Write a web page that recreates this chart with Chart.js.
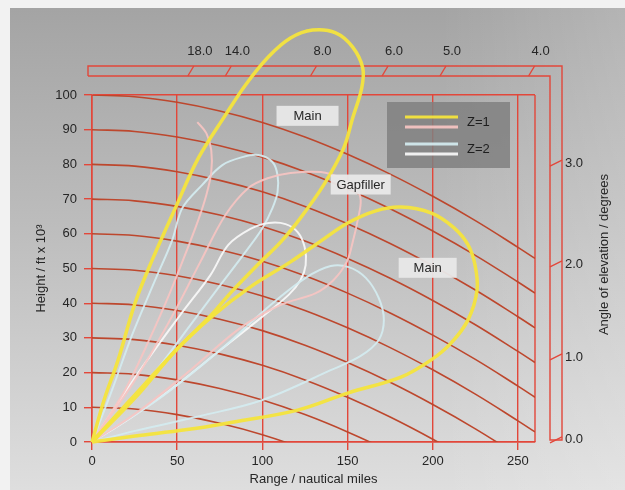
<!DOCTYPE html>
<html>
<head>
<meta charset="utf-8">
<script src="https://cdn.jsdelivr.net/npm/chart.js@4.4.1/dist/chart.umd.min.js"></script>
<style>
  html, body { margin: 0; padding: 0; background: #fff; }
</style>
</head>
<body>
<canvas id="coverage" width="625" height="490"></canvas>
<script>
var FONT = "'Liberation Sans', Arial, Helvetica, sans-serif";
var RED = '#e2473a';
var CURVE = '#bd472d';
var INK = '#262626';
var YELLOW = 'rgba(244,228,60,0.95)';
var PINK = 'rgba(246,196,194,0.92)';
var CYAN = 'rgba(212,236,240,0.92)';
var WHITE = 'rgba(248,248,248,0.92)';

// axes
var rangeTicks = [0, 50, 100, 150, 200, 250];
var heightTicks = [0, 10, 20, 30, 40, 50, 60, 70, 80, 90, 100];
var rangeMax = 260;

// constant height lines (ft x 10^3) and their fall below the flat line
var heightLevels = [10, 20, 30, 40, 50, 60, 70, 80, 90, 100];
var curveRange = [0, 25, 50, 75, 100, 125, 150, 175, 200, 225, 250, 260];
var curveDrop = [0, 0.5, 2.1, 4.6, 7.9, 12.1, 17.1, 22.8, 29.2, 36.2, 43.9, 47.1];

// right scale: angle of elevation, height where it meets the frame
var angleLabels = ['0.0', '1.0', '2.0', '3.0'];
var angleHeights = [0.6, 24.5, 51.3, 80.4];

// top scale
var topLabels = ['18.0', '14.0', '8.0', '6.0', '5.0', '4.0'];
var topRanges = [58, 80, 130, 172, 206, 258];

// Z=1 main lobes (yellow)
var mainUpperRange = [0, 7.1, 15.3, 25.3, 35.3, 48.9, 62.4, 78.3, 90.1, 103.6, 116.5, 129.5, 143.0, 153.0, 158.9, 158.3, 153.0, 147.7, 136.0, 122.4, 110.7, 97.7, 81.2, 70.0, 49.4, 22.4, 0];
var mainUpperHeight = [0, 12.1, 23.6, 40.1, 52.4, 67.4, 81.8, 94.2, 102.9, 111.0, 116.4, 118.7, 117.9, 113.8, 107.8, 102.0, 93.4, 84.7, 74.1, 64.6, 57.6, 51.3, 42.9, 36.6, 26.5, 12.1, 0];
var mainLowerRange = [0, 25.3, 49.4, 70.0, 93.0, 116.5, 134.2, 150.1, 166.6, 181.3, 198.9, 212.5, 220.7, 224.8, 226.0, 220.7, 210.7, 198.9, 181.3, 150.1, 120.7, 80.0, 54.7, 25.3, 0];
var mainLowerHeight = [0, 12.7, 26.5, 36.0, 44.7, 51.9, 57.9, 63.1, 66.6, 67.7, 66.0, 61.7, 56.8, 51.0, 43.8, 35.2, 28.5, 23.6, 18.7, 14.1, 9.2, 5.5, 3.5, 1.7, 0];

// Z=1 gapfiller lobes (pink)
var gapHookRange = [61.8, 67.1, 70.0, 70.0, 67.1, 62.4, 55.3, 45.9, 34.1, 19.4, 0];
var gapHookHeight = [92.2, 89.0, 84.1, 77.8, 71.2, 64.0, 54.8, 43.2, 30.0, 15.0, 0];
var gapLobeRange = [0, 25.3, 45.9, 63.6, 78.3, 91.8, 103.6, 116.5, 134.2, 146.0, 154.8, 157.7, 156.0, 153.0, 149.5, 141.8, 131.3, 110.7, 87.1, 57.7, 28.3, 0];
var gapLobeHeight = [0, 17.9, 35.2, 51.9, 65.4, 73.2, 76.1, 77.5, 77.8, 76.1, 73.2, 69.7, 64.0, 57.6, 51.9, 46.7, 42.9, 39.5, 32.9, 20.7, 9.2, 0];

// Z=2 lobes (cyan, white)
var z2UpperRange = [0, 11.8, 23.5, 37.1, 47.1, 53.0, 64.7, 76.5, 88.3, 97.7, 105.9, 108.9, 108.9, 105.9, 100.1, 90.1, 75.3, 57.7, 34.1, 0];
var z2UpperHeight = [0, 15.0, 30.8, 46.7, 58.2, 67.4, 74.1, 79.8, 82.1, 82.7, 80.7, 76.9, 72.0, 67.4, 61.7, 54.8, 45.2, 33.7, 18.4, 0];
var z2GapRange = [0, 28.3, 51.8, 69.5, 80.0, 93.0, 103.6, 113.6, 120.7, 124.8, 125.4, 122.4, 115.4, 98.9, 75.3, 45.9, 22.4, 0];
var z2GapHeight = [0, 20.7, 36.6, 48.1, 56.8, 61.4, 63.1, 62.8, 60.5, 56.2, 51.0, 46.7, 42.4, 35.7, 26.5, 15.0, 6.9, 0];
var z2LowerRange = [0, 40.0, 75.3, 104.8, 125.4, 140.1, 150.7, 160.7, 168.3, 171.3, 168.3, 157.7, 140.1, 100.1, 63.6, 25.3, 0];
var z2LowerHeight = [0, 12.7, 26.5, 39.5, 47.3, 50.7, 50.4, 47.3, 41.5, 35.2, 29.4, 24.8, 20.7, 12.1, 7.5, 3.2, 0];

// lobe labels
var noteText = ['Main', 'Gapfiller', 'Main'];
var noteRange = [126.5, 157.7, 197.0];
var noteHeight = [94.0, 74.2, 50.2];

function pts(r, h) {
  return r.map(function (v, i) { return { x: v, y: h[i] }; });
}

var datasets = [];

// height lines first, under everything
heightLevels.forEach(function (lvl) {
  datasets.push({
    data: curveRange.map(function (d, i) { return { x: d, y: lvl - curveDrop[i] }; }),
    borderColor: CURVE,
    borderWidth: 1.6,
    tension: 0.4,
    order: 10
  });
});

function lobe(r, h, color, width, order) {
  return {
    data: pts(r, h),
    borderColor: color,
    borderWidth: width,
    tension: 0.35,
    clip: false,
    order: order
  };
}

datasets.push(lobe(z2LowerRange, z2LowerHeight, CYAN, 2, 4));
datasets.push(lobe(z2GapRange, z2GapHeight, WHITE, 2, 4));
datasets.push(lobe(z2UpperRange, z2UpperHeight, CYAN, 2, 4));
datasets.push(lobe(gapLobeRange, gapLobeHeight, PINK, 2, 3));
datasets.push(lobe(gapHookRange, gapHookHeight, PINK, 2, 3));
datasets.push(lobe(mainLowerRange, mainLowerHeight, YELLOW, 3.5, 1));
datasets.push(lobe(mainUpperRange, mainUpperHeight, YELLOW, 3.5, 1));

var decor = {
  id: 'decor',
  beforeDraw: function (chart) {
    var ctx = chart.ctx;
    ctx.save();
    ctx.fillStyle = '#f2f2f2';
    ctx.fillRect(0, 0, chart.width, chart.height);
    var g = ctx.createLinearGradient(0, 0, 0, chart.height);
    g.addColorStop(0, '#a3a3a3');
    g.addColorStop(0.45, '#bcbcbc');
    g.addColorStop(1, '#dedede');
    ctx.fillStyle = g;
    ctx.fillRect(10, 8, chart.width - 10, chart.height - 8);
    var g2 = ctx.createLinearGradient(440, 0, chart.width, 0);
    g2.addColorStop(0, 'rgba(255,255,255,0)');
    g2.addColorStop(1, 'rgba(255,255,255,0.18)');
    ctx.fillStyle = g2;
    ctx.fillRect(440, 8, chart.width - 440, chart.height - 8);
    ctx.restore();
  },
  beforeDatasetsDraw: function (chart) {
    var ctx = chart.ctx;
    var xs = chart.scales.x, ys = chart.scales.y;
    var area = chart.chartArea;
    var xr = xs.getPixelForValue(rangeMax);
    ctx.save();
    ctx.strokeStyle = RED;
    ctx.lineWidth = 1.4;
    // right frame
    ctx.beginPath();
    ctx.moveTo(xr, area.top);
    ctx.lineTo(xr, area.bottom);
    ctx.stroke();
    // L-shaped scale bar (top + right)
    var outerY = 66, innerY = 76, outerX = 562, innerX = 550, leftX = 88, bot = area.bottom - 2;
    ctx.beginPath();
    ctx.moveTo(leftX, innerY);
    ctx.lineTo(leftX, outerY);
    ctx.lineTo(outerX, outerY);
    ctx.lineTo(outerX, bot);
    ctx.lineTo(innerX, bot);
    ctx.lineTo(innerX, innerY);
    ctx.lineTo(leftX, innerY);
    ctx.stroke();
    // top ticks and labels
    ctx.font = '13px ' + FONT;
    ctx.fillStyle = INK;
    ctx.textAlign = 'center';
    ctx.textBaseline = 'middle';
    topRanges.forEach(function (r, i) {
      var px = xs.getPixelForValue(r);
      ctx.beginPath();
      ctx.moveTo(px - 3, innerY);
      ctx.lineTo(px + 3, outerY);
      ctx.stroke();
      ctx.fillText(topLabels[i], px + 9, 51);
    });
    // right ticks and labels
    ctx.textAlign = 'left';
    angleHeights.forEach(function (h, i) {
      var py = ys.getPixelForValue(h);
      ctx.beginPath();
      ctx.moveTo(innerX, py + 3);
      ctx.lineTo(outerX, py - 3);
      ctx.stroke();
      ctx.fillText(angleLabels[i], 565, py);
    });
    // right title
    ctx.translate(604, (area.top + area.bottom) / 2 - 14);
    ctx.rotate(-Math.PI / 2);
    ctx.textAlign = 'center';
    ctx.fillText('Angle of elevation / degrees', 0, 0);
    ctx.restore();
  },
  afterDatasetsDraw: function (chart) {
    var ctx = chart.ctx;
    var xs = chart.scales.x, ys = chart.scales.y;
    var boxW = [62, 60, 58];
    ctx.save();
    ctx.font = '13px ' + FONT;
    ctx.textAlign = 'center';
    ctx.textBaseline = 'middle';
    noteText.forEach(function (t, i) {
      var cx = xs.getPixelForValue(noteRange[i]);
      var cy = ys.getPixelForValue(noteHeight[i]);
      ctx.fillStyle = 'rgba(232,232,232,0.95)';
      ctx.fillRect(cx - boxW[i] / 2, cy - 10, boxW[i], 20);
      ctx.fillStyle = INK;
      ctx.fillText(t, cx, cy + 1);
    });
    // legend
    ctx.fillStyle = 'rgba(128,128,128,0.85)';
    ctx.fillRect(387, 102, 123, 66);
    var rows = [[117, YELLOW], [127, PINK], [144, CYAN], [154, WHITE]];
    ctx.lineWidth = 3;
    rows.forEach(function (r) {
      ctx.strokeStyle = r[1];
      ctx.beginPath();
      ctx.moveTo(405, r[0]);
      ctx.lineTo(458, r[0]);
      ctx.stroke();
    });
    ctx.fillStyle = '#1e1e1e';
    ctx.textAlign = 'left';
    ctx.fillText('Z=1', 467, 122);
    ctx.fillText('Z=2', 467, 149);
    ctx.restore();
  }
};

var chart = new Chart(document.getElementById('coverage'), {
  type: 'line',
  data: { datasets: datasets },
  plugins: [decor],
  options: {
    responsive: false,
    animation: false,
    devicePixelRatio: 1,
    layout: { padding: { top: 95, right: 90, left: 0, bottom: 0 } },
    plugins: { legend: { display: false }, tooltip: { enabled: false } },
    elements: {
      point: { radius: 0, hoverRadius: 0 },
      line: { capBezierPoints: false, fill: false }
    },
    scales: {
      x: {
        type: 'linear',
        min: 0,
        max: rangeMax,
        afterBuildTicks: function (s) { s.ticks = rangeTicks.map(function (v) { return { value: v }; }); },
        afterFit: function (s) { s.height = 48; },
        grid: { color: RED, lineWidth: 1.4, tickLength: 8, tickColor: RED },
        border: { color: RED, width: 1.6 },
        ticks: { color: INK, font: { size: 13, family: FONT }, padding: 4, maxRotation: 0 },
        title: { display: true, text: 'Range / nautical miles', color: INK, font: { size: 13, family: FONT }, padding: { top: 0, bottom: 3 } }
      },
      y: {
        type: 'linear',
        min: 0,
        max: 100,
        afterBuildTicks: function (s) { s.ticks = heightTicks.map(function (v) { return { value: v }; }); },
        afterFit: function (s) { s.width = 92; },
        grid: {
          color: function (c) { return (c.tick && (c.tick.value === 0 || c.tick.value === 100)) ? RED : 'rgba(0,0,0,0)'; },
          lineWidth: 1.4, tickLength: 8, tickColor: RED
        },
        border: { color: RED, width: 1.6 },
        ticks: { color: INK, font: { size: 13, family: FONT }, padding: 7 },
        title: { display: true, text: 'Height / ft x 10³', color: INK, font: { size: 13, family: FONT }, padding: { top: 34, bottom: 0 } }
      }
    }
  }
});
</script>
</body>
</html>
